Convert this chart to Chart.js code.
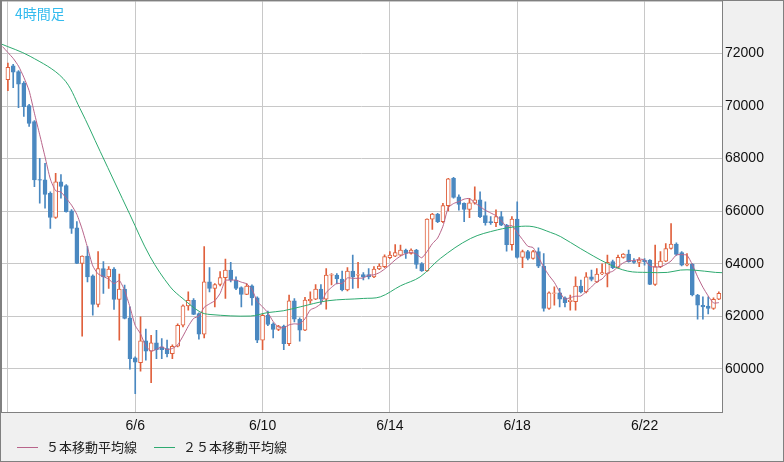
<!DOCTYPE html>
<html><head><meta charset="utf-8">
<script src="https://cdn.jsdelivr.net/npm/chart.js@4"></script>
<style>
html,body{margin:0;padding:0;background:#f0f0f0;}
#wrap{position:relative;width:782px;height:460px;border:1px solid #808080;background:#f0f0f0;overflow:hidden;}
canvas{position:absolute;left:0;top:-11px;}
#title{position:absolute;left:14px;top:2px;font:14px "Noto Sans CJK JP",sans-serif;color:#33bbee;}
.lg{position:absolute;top:436px;font:13px "Noto Sans CJK JP",sans-serif;color:#222;}
.ln{position:absolute;top:446px;height:1px;width:21px;}
</style></head><body>
<div id="wrap"><canvas id="c" width="782" height="472"></canvas>
<div id="title">4時間足</div>
<div class="ln" style="left:16px;background:#b8648a"></div><div class="lg" style="left:45px">５本移動平均線</div>
<div class="ln" style="left:153px;background:#2eaa70"></div><div class="lg" style="left:182px">２５本移動平均線</div>
</div>
<script>
const opens=[71000,71530,71310,70870,70020,69410,67200,67190,66680,65760,67120,66970,66010,65370,64010,64290,63540,62450,63820,63500,63800,62640,63040,61940,60420,60240,61070,60670,60990,60840,60770,60580,60860,61660,62400,62610,62100,61320,63310,63060,63210,63470,63760,63380,63090,62830,63160,62700,61090,62040,61700,61500,61630,60960,62590,61890,61470,62590,62650,63040,62650,63570,63570,63420,63000,63720,63570,63590,63590,63500,63800,63890,64230,64290,64330,64520,64390,64520,64010,63730,65700,65890,65600,66210,67250,66550,66300,66070,66300,66430,65830,65600,65560,65790,65470,64730,65700,64240,64460,64200,64460,63910,62300,62870,62890,62700,62560,62560,63150,62930,63500,63310,63610,63610,64080,63860,64240,64370,64110,64050,64140,64140,63210,63890,64100,64580,64750,64420,63950,63990,62810,62420,62390,62300,62650];
const highs=[71630,71590,71350,70930,70060,69450,68010,67820,66740,67440,67390,67010,66060,65600,64300,64650,63580,64460,64080,63890,63850,63610,63190,62360,60460,61980,61510,61280,61470,61150,61100,60920,61710,62440,62930,62670,62130,64650,63850,63250,63700,64180,64050,63500,63120,63250,63200,62740,62090,62200,61750,61660,61670,62810,62670,61940,62720,62930,63210,63210,63820,63630,63630,63720,63850,64330,64050,63660,63820,63890,64000,64340,64460,64730,64710,64560,64570,64550,64040,65710,65920,65920,66300,67250,67290,66620,66320,66490,66930,66740,66360,65790,66050,65980,65500,65790,66360,64520,64510,64510,64610,64390,62930,63120,63060,62740,62810,63500,63380,63660,63760,63820,64000,64330,64140,64330,64390,64520,64200,64230,64200,64160,64710,64460,64770,65530,64800,64460,64390,64010,62840,62740,62740,62700,62930];
const lows=[70580,70700,69940,69600,69220,66930,66300,66110,65340,65720,66490,65960,65150,64000,61240,63310,62040,62360,62870,63060,62260,61090,61900,59990,59060,59910,60330,59480,60390,60390,60460,60390,60840,61600,62230,62060,61130,61180,62930,62360,63160,62680,63310,63010,62360,62820,62420,61000,60730,61640,61180,61450,60730,60880,61790,61050,61450,62490,62630,62460,62270,63190,63230,62970,62970,63060,63080,63380,63420,63470,63770,63850,64190,64270,64300,64200,64360,63820,63710,63710,65310,65560,65560,66010,66490,66040,65600,65750,66270,65750,65470,65500,65410,65450,64480,64520,64210,63850,64150,64170,63850,62200,62260,62420,62360,62360,62230,62230,62890,62890,63350,63280,63580,63120,63810,63830,64210,64060,64010,63890,63950,63200,63180,63850,64080,64550,64320,63920,63920,62780,61890,61890,62090,62260,62630];
const closes=[71470,71290,70830,69980,69340,67190,67180,66640,65760,67120,66940,65980,65340,64010,64290,63500,62450,63820,63500,63800,62640,63040,61920,60390,60260,61070,60670,60990,60730,60730,60580,60860,61660,62400,62610,62070,61320,63310,63060,63210,63470,63760,63380,63060,62830,63150,62700,61090,62040,61690,61500,61630,60960,62590,61890,61470,62620,62650,63040,62650,63570,63590,63420,63000,63720,63500,63590,63500,63500,63800,63910,64270,64330,64420,64520,64390,64520,63970,63730,65700,65890,65600,66210,67230,66520,66260,66070,66320,66430,65790,65560,65560,65790,65470,64730,65700,64240,64460,64200,64460,63910,62300,62890,62890,62650,62520,62610,63150,62930,63500,63400,63610,63660,64050,63850,64240,64370,64080,64050,64140,64080,63210,63890,64100,64580,64750,64350,63950,63990,62810,62420,62360,62300,62650,62870];
const priorCloses=[72600,72400,72300,72100,71900];
const ma25Idx=[-1.5,4.2,10.4,13.6,17.4,23,26.8,30.6,33,36.2,38.1,45.7,48.9,51.9,55.1,60.2,67,70.2,74,77.7,81.5,87.2,92.3,96,99,102.3,104.2,107.9,113,116.8,120.6,124.3,126.8,129.2,133.4,134.6];
const ma25Val=[72380,71890,71050,69900,68270,65870,64270,63120,62670,62170,62070,62010,62140,62210,62360,62590,62680,62740,63160,63500,64200,64960,65290,65410,65410,65190,65030,64580,64010,63720,63670,63670,63760,63760,63670,63660];
const dayTicks=[0,24,48,72,96,120];
const dayLabels=['','6/6','6/10','6/14','6/18','6/22'];
const priceTicks=[60000,62000,64000,66000,68000,70000,72000];

const UP='#e0603c',DN='#4a88c0';
const n=closes.length;
const bodies=[],wicks=[],bodyBg=[],bodyBd=[],wickCol=[];
for(let i=0;i<n;i++){
  const o=opens[i],c=closes[i],up=c>=o;
  const lo=Math.min(o,c),hi=Math.max(o,c);
  bodies.push({x:i,y:[lo,hi-lo<20?lo+20:hi]});
  wicks.push({x:i,y:[lows[i],highs[i]]});
  bodyBg.push(up?'#ffffff':DN);bodyBd.push(up?UP:DN);wickCol.push(up?UP:DN);
}
const all=priorCloses.concat(closes);const ma5=[];
for(let i=-1;i<n;i++){let s=0;for(let k=0;k<5;k++)s+=all[i+5-k];ma5.push({x:i,y:s/5});}
const ma25=ma25Idx.map((x,k)=>({x,y:ma25Val[k]}));

const bgPlugin={id:'bg',beforeDraw(ch){const a=ch.chartArea,ctx=ch.ctx;ctx.save();ctx.fillStyle='#fff';ctx.fillRect(a.left,a.top,a.right-a.left,a.bottom-a.top);ctx.restore();},
 afterDraw(ch){const a=ch.chartArea,ctx=ch.ctx;ctx.save();ctx.strokeStyle='#808080';ctx.lineWidth=1;ctx.strokeRect(a.left+0.5,a.top-0.5,a.right-a.left,a.bottom-a.top+1);ctx.restore();}};

new Chart(document.getElementById('c'),{
 data:{datasets:[
  {type:'line',data:ma25,borderColor:'#2eaa70',borderWidth:1,pointRadius:0,tension:0.35,order:0},
  {type:'line',data:ma5,borderColor:'#b8648a',borderWidth:1,pointRadius:0,tension:0.2,order:1},
  {type:'bar',data:bodies,backgroundColor:bodyBg,borderColor:bodyBd,borderWidth:1,borderSkipped:false,barThickness:4,grouped:false,order:2},
  {type:'bar',data:wicks,backgroundColor:wickCol,borderWidth:0,barThickness:1,grouped:false,order:3}
 ]},
 options:{responsive:false,animation:false,devicePixelRatio:1,
  layout:{padding:0},
  plugins:{legend:{display:false},tooltip:{enabled:false}},
  scales:{
   x:{type:'linear',min:-1.3,max:134.6,offset:false,
    afterBuildTicks(s){s.ticks=dayTicks.map(v=>({value:v}));},
    afterFit(s){s.height=50;},
    grid:{color:'#c8c8c8',drawTicks:false,offset:false},border:{display:false},
    ticks:{autoSkip:false,maxRotation:0,padding:6,color:'#111',font:{family:'Liberation Sans',size:14},callback:(v)=>dayLabels[dayTicks.indexOf(v)]}},
   y:{position:'right',min:58360,max:73980,
    afterBuildTicks(s){s.ticks=priceTicks.map(v=>({value:v}));},
    afterFit(s){s.width=61;},
    grid:{color:'#c8c8c8',drawTicks:false},border:{display:false},
    ticks:{padding:3,color:'#111',font:{family:'Liberation Sans',size:14},callback:v=>String(v)}}
  }},
 plugins:[bgPlugin]
});
</script></body></html>
